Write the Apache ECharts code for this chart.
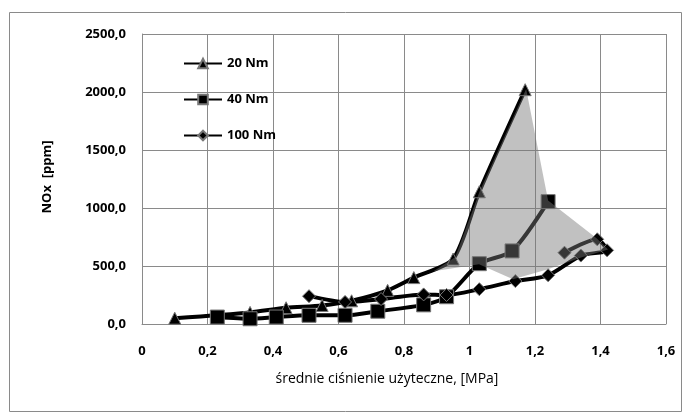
<!DOCTYPE html>
<html>
<head>
<meta charset="utf-8">
<script src="https://cdn.jsdelivr.net/npm/echarts@6/dist/echarts.min.js"></script>
<style>
  html, body { margin: 0; padding: 0; background: #fff; }
  #chart { width: 688px; height: 419px; }
</style>
</head>
<body>
<div id="chart"></div>
<script>
// NOx emission vs. brake mean effective pressure for three engine loads
const xTicks = [0, 0.2, 0.4, 0.6, 0.8, 1.0, 1.2, 1.4, 1.6];
const yTicks = [0, 500, 1000, 1500, 2000, 2500];

const seriesNames = ['20 Nm', '40 Nm', '100 Nm'];

const p20 = [0.10, 0.33, 0.44, 0.55, 0.64, 0.75, 0.83, 0.95, 1.03, 1.17];
const nox20 = [50, 100, 140, 160, 200, 290, 400, 560, 1140, 2020];

const p40 = [0.23, 0.33, 0.41, 0.51, 0.62, 0.72, 0.86, 0.93, 1.03, 1.13, 1.24];
const nox40 = [60, 45, 60, 75, 75, 110, 165, 235, 520, 630, 1055];

const p100 = [0.51, 0.62, 0.73, 0.86, 0.93, 1.03, 1.14, 1.24, 1.34, 1.42, 1.39, 1.29];
const nox100 = [240, 190, 215, 255, 250, 300, 370, 420, 590, 635, 730, 615];

// outline of the highlighted (shaded) region
const regionX = [0.89, 0.956, 1.032, 1.173, 1.24, 1.389, 1.423, 1.343, 1.237, 1.133, 1.029];
const regionY = [455, 575, 1150, 2025, 1065, 738, 643, 575, 470, 385, 515];

const pairs = (xs, ys) => xs.map((x, i) => [x, ys[i]]);
const fmt = v => v.toFixed(1).replace('.', ',');
const fmtX = v => {
  const r = Math.round(v * 10) / 10;
  return Number.isInteger(r) ? String(r) : String(r).replace('.', ',');
};

const FONT = '"Open Sans", "Noto Sans", sans-serif';
const GRID_COLOR = '#8a8a8a';

const lineSeries = (name, xs, ys, symbol, size) => ({
  name,
  type: 'line',
  data: pairs(xs, ys),
  smooth: 0.25,
  symbol,
  symbolSize: size,
  showAllSymbol: true,
  lineStyle: { color: '#000', width: 4 },
  itemStyle: { color: '#000', borderColor: '#777', borderWidth: 1 },
  z: 2
});

const chart = echarts.init(document.getElementById('chart'), null, { renderer: 'canvas' });

chart.setOption({
  animation: false,
  backgroundColor: '#fff',
  grid: { left: 142, right: 22, top: 34, bottom: 95, containLabel: false },
  xAxis: {
    type: 'value',
    min: xTicks[0],
    max: xTicks[xTicks.length - 1],
    interval: 0.2,
    axisLine: { show: true, lineStyle: { color: GRID_COLOR } },
    axisTick: { show: false },
    splitLine: { show: true, lineStyle: { color: GRID_COLOR, width: 1 } },
    axisLabel: {
      margin: 21,
      color: '#000',
      fontFamily: FONT,
      fontWeight: 'bold',
      fontSize: 13,
      formatter: fmtX
    }
  },
  yAxis: {
    type: 'value',
    min: yTicks[0],
    max: yTicks[yTicks.length - 1],
    interval: 500,
    axisLine: { show: true, lineStyle: { color: GRID_COLOR } },
    axisTick: { show: false },
    splitLine: { show: true, lineStyle: { color: GRID_COLOR, width: 1 } },
    axisLabel: {
      margin: 16,
      color: '#000',
      fontFamily: FONT,
      fontWeight: 'bold',
      fontSize: 13,
      formatter: fmt
    }
  },
  legend: {
    data: seriesNames,
    orient: 'vertical',
    left: 183,
    top: 57,
    padding: 0,
    itemWidth: 38,
    itemHeight: 12,
    itemGap: 23,
    textStyle: { color: '#000', fontFamily: FONT, fontWeight: 'bold', fontSize: 13 }
  },
  graphic: [
    {
      type: 'rect',
      shape: { x: 9.5, y: 12.5, width: 672, height: 399 },
      style: { fill: 'none', stroke: '#8a8a8a', lineWidth: 1 },
      silent: true,
      z: -1
    },
    {
      type: 'text',
      x: 47,
      y: 177,
      rotation: Math.PI / 2,
      style: {
        text: 'NOx  [ppm]',
        fill: '#000',
        font: 'bold 13px ' + FONT,
        align: 'center',
        verticalAlign: 'middle'
      }
    },
    {
      type: 'text',
      x: 387,
      y: 379,
      style: {
        text: 'średnie ciśnienie użyteczne, [MPa]',
        fill: '#000',
        font: '14px ' + FONT,
        align: 'center',
        verticalAlign: 'middle'
      }
    }
  ],
  series: [
    lineSeries(seriesNames[0], p20, nox20, 'triangle', 12),
    lineSeries(seriesNames[1], p40, nox40, 'rect', 14),
    lineSeries(seriesNames[2], p100, nox100, 'diamond', 13),
    {
      name: 'region',
      type: 'custom',
      silent: true,
      z: 5,
      data: [[regionX[0], regionY[0]]],
      renderItem: (params, api) => {
        const points = regionX.map((x, i) => api.coord([x, regionY[i]]));
        return {
          type: 'polygon',
          shape: { points },
          style: { fill: 'rgba(120,120,120,0.46)', stroke: 'none' }
        };
      }
    }
  ]
});
</script>
</body>
</html>
